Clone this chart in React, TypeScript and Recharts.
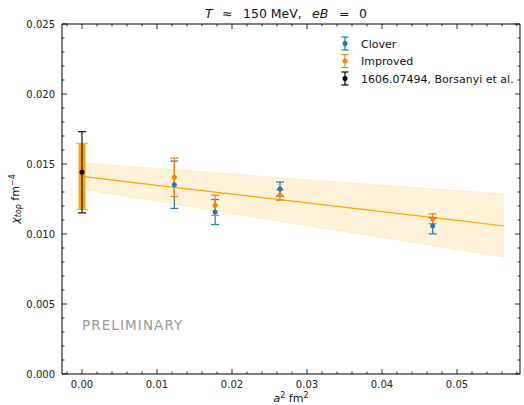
import {
    ComposedChart,
    Area,
    Line,
    Scatter,
    ErrorBar,
    XAxis,
    YAxis,
    Legend,
} from "recharts"

// continuum fit (band + central line)
const fitX = [0, 0.01, 0.02, 0.03, 0.04, 0.05, 0.0563]
const fitCentral = [0.01411, 0.01348, 0.01285, 0.01223, 0.0116, 0.01097, 0.01057]
const fitUpper = [0.01509, 0.01468, 0.01428, 0.01388, 0.01348, 0.0131, 0.01286]
const fitLower = [0.0132, 0.01235, 0.01145, 0.0106, 0.00975, 0.0089, 0.00834]

// lattice points
const a2 = [0.01231, 0.01775, 0.0264, 0.04676]
const cloverY = [0.01352, 0.01157, 0.01321, 0.01059]
const cloverErr = [0.00169, 0.00089, 0.0005, 0.00058]
const improvedY = [0.01405, 0.01205, 0.01279, 0.01109]
const improvedErr = [0.00137, 0.00072, 0.00038, 0.00035]

// a^2 = 0 values
const continuumY = [0.01412]
const continuumErr = [0.00236]
const borsanyiY = [0.01441]
const borsanyiErr = [0.0029]

const xMajorTicks = [0, 0.01, 0.02, 0.03, 0.04, 0.05]
const xMinorTicks = [
    -0.002, 0.002, 0.004, 0.006, 0.008, 0.012, 0.014, 0.016, 0.018, 0.022,
    0.024, 0.026, 0.028, 0.032, 0.034, 0.036, 0.038, 0.042, 0.044, 0.046,
    0.048, 0.052, 0.054, 0.056, 0.058,
]
const yMajorTicks = [0, 0.005, 0.01, 0.015, 0.02, 0.025]
const yMinorTicks = [
    0.001, 0.002, 0.003, 0.004, 0.006, 0.007, 0.008, 0.009, 0.011, 0.012,
    0.013, 0.014, 0.016, 0.017, 0.018, 0.019, 0.021, 0.022, 0.023, 0.024,
]

const legendLabels = ["Clover", "Improved", "1606.07494, Borsanyi et al."]

const BLUE = "#1f77b4"
const ORANGE = "#ff7f0e"
const FIT = "#ffa500"
const FONT = "DejaVu Sans"

const fitData = fitX.map((x, i) => ({
    x,
    fit: fitCentral[i],
    band: [fitLower[i], fitUpper[i]],
}))
const cloverData = a2.map((x, i) => ({ x, y: cloverY[i], err: cloverErr[i] }))
const improvedData = a2.map((x, i) => ({ x, y: improvedY[i], err: improvedErr[i] }))
const continuumData = [{ x: 0, y: continuumY[0], err: continuumErr[0] }]
const borsanyiData = [{ x: 0, y: borsanyiY[0], err: borsanyiErr[0] }]

const xTicks = [...xMajorTicks, ...xMinorTicks].sort((a, b) => a - b)
const yTicks = [...yMajorTicks, ...yMinorTicks].sort((a, b) => a - b)

const isMajor = (v: number, majors: number[]) =>
    majors.some((m) => Math.abs(m - v) < 1e-9)

function makeXTick(side: "bottom" | "top") {
    return (props: any) => {
        const { x, y, payload } = props
        const major = isMajor(payload.value, xMajorTicks)
        const len = major ? 5 : 2.5
        const dir = side === "bottom" ? -1 : 1
        return (
            <g>
                <line x1={x} y1={y} x2={x} y2={y + dir * len} stroke="#000" strokeWidth={0.8} />
                {major && side === "bottom" && (
                    <text x={x} y={y + 14} textAnchor="middle" fontSize={10} fontFamily={FONT} fill="#222">
                        {payload.value.toFixed(2)}
                    </text>
                )}
            </g>
        )
    }
}

function makeYTick(side: "left" | "right") {
    return (props: any) => {
        const { x, y, payload } = props
        const major = isMajor(payload.value, yMajorTicks)
        const len = major ? 5 : 2.5
        const dir = side === "left" ? 1 : -1
        return (
            <g>
                <line x1={x} y1={y} x2={x + dir * len} y2={y} stroke="#000" strokeWidth={0.8} />
                {major && side === "left" && (
                    <text x={x - 7} y={y + 3.6} textAnchor="end" fontSize={10} fontFamily={FONT} fill="#222">
                        {payload.value.toFixed(3)}
                    </text>
                )}
            </g>
        )
    }
}

const legendColors = [BLUE, ORANGE, "#000"]

function LegendBox() {
    return (
        <svg width={190} height={56}>
            {legendLabels.map((label, i) => {
                const cy = 9.5 + i * 17.5
                const c = legendColors[i]
                return (
                    <g key={label}>
                        <line x1={11} y1={cy - 6.5} x2={11} y2={cy + 6.5} stroke={c} strokeWidth={1.2} />
                        <line x1={7.5} y1={cy - 6.5} x2={14.5} y2={cy - 6.5} stroke={c} strokeWidth={1.2} />
                        <line x1={7.5} y1={cy + 6.5} x2={14.5} y2={cy + 6.5} stroke={c} strokeWidth={1.2} />
                        <circle cx={11} cy={cy} r={2.5} fill={c} />
                        <text x={27} y={cy + 4} fontSize={11} fontFamily={FONT} fill="#111">
                            {label}
                        </text>
                    </g>
                )
            })}
        </svg>
    )
}

const dot = (color: string, r: number) => (p: any) =>
    <circle cx={p.cx} cy={p.cy} r={r} fill={color} />

export default function App() {
    return (
        <div style={{ position: "absolute", left: 0, top: 0, width: 524, height: 405, background: "#fff" }}>
            <ComposedChart
                width={524}
                height={405}
                data={fitData}
                margin={{ top: 23, right: 3, bottom: 30, left: 61 }}
            >
                <XAxis
                    dataKey="x"
                    type="number"
                    domain={[-0.002667, 0.0584]}
                    allowDataOverflow
                    ticks={xTicks}
                    interval={0}
                    tickSize={0}
                    tickMargin={0}
                    tickLine={false}
                    height={1}
                    axisLine={{ stroke: "#000", strokeWidth: 1 }}
                    tick={makeXTick("bottom")}
                />
                <XAxis
                    xAxisId="top"
                    orientation="top"
                    dataKey="x"
                    type="number"
                    domain={[-0.002667, 0.0584]}
                    allowDataOverflow
                    ticks={xTicks}
                    interval={0}
                    tickSize={0}
                    tickMargin={0}
                    tickLine={false}
                    height={1}
                    axisLine={{ stroke: "#000", strokeWidth: 1 }}
                    tick={makeXTick("top")}
                />
                <YAxis
                    type="number"
                    domain={[0, 0.025]}
                    allowDataOverflow
                    ticks={yTicks}
                    interval={0}
                    tickSize={0}
                    tickMargin={0}
                    tickLine={false}
                    width={1}
                    axisLine={{ stroke: "#000", strokeWidth: 1 }}
                    tick={makeYTick("left")}
                />
                <YAxis
                    yAxisId="right"
                    orientation="right"
                    type="number"
                    domain={[0, 0.025]}
                    allowDataOverflow
                    ticks={yTicks}
                    interval={0}
                    tickSize={0}
                    tickMargin={0}
                    tickLine={false}
                    width={1}
                    axisLine={{ stroke: "#000", strokeWidth: 1 }}
                    tick={makeYTick("right")}
                />
                <Area
                    dataKey="band"
                    type="linear"
                    fill={FIT}
                    fillOpacity={0.15}
                    stroke={FIT}
                    strokeOpacity={0.15}
                    isAnimationActive={false}
                />
                <Line
                    dataKey="fit"
                    type="linear"
                    stroke={FIT}
                    strokeWidth={1.2}
                    dot={false}
                    activeDot={false}
                    isAnimationActive={false}
                />
                <Scatter data={cloverData} dataKey="y" shape={dot(BLUE, 2.5)} isAnimationActive={false}>
                    <ErrorBar dataKey="err" direction="y" width={4} stroke={BLUE} strokeWidth={1.2} />
                </Scatter>
                <Scatter data={improvedData} dataKey="y" shape={dot(ORANGE, 2.5)} isAnimationActive={false}>
                    <ErrorBar dataKey="err" direction="y" width={4} stroke={ORANGE} strokeWidth={1.2} />
                </Scatter>
                <Scatter data={continuumData} dataKey="y" shape={() => <g />} isAnimationActive={false}>
                    <ErrorBar dataKey="err" direction="y" width={0} stroke={FIT} strokeWidth={7} />
                    <ErrorBar dataKey="err" direction="y" width={6} stroke={FIT} strokeWidth={1} />
                </Scatter>
                <Scatter data={borsanyiData} dataKey="y" shape={dot("#000", 2.5)} isAnimationActive={false}>
                    <ErrorBar dataKey="err" direction="y" width={4} stroke="#222" strokeWidth={1.3} />
                </Scatter>
                <Legend
                    layout="horizontal"
                    verticalAlign="middle"
                    align="center"
                    wrapperStyle={{ left: 334, top: 34, width: 190, height: 56 }}
                    content={() => <LegendBox />}
                />
            </ComposedChart>
            <svg
                width={524}
                height={405}
                style={{ position: "absolute", left: 0, top: 0, pointerEvents: "none" }}
                fontFamily={FONT}
            >
                <text y={18} fontSize={12.5} fill="#111">
                    <tspan x={205} fontStyle="italic">T</tspan>
                    <tspan x={222}>≈</tspan>
                    <tspan x={243}>150 MeV,</tspan>
                    <tspan x={312} fontStyle="italic">eB</tspan>
                    <tspan x={339}>=</tspan>
                    <tspan x={359}>0</tspan>
                </text>
                <text x={291} y={402} textAnchor="middle" fontSize={11} fill="#111">
                    <tspan fontStyle="italic">a</tspan>
                    <tspan fontSize={8} dy={-4}>2</tspan>
                    <tspan dy={4}> fm</tspan>
                    <tspan fontSize={8} dy={-4}>2</tspan>
                </text>
                <text
                    transform="translate(19,199) rotate(-90)"
                    textAnchor="middle"
                    fontSize={11}
                    fill="#111"
                >
                    <tspan fontStyle="italic">χ</tspan>
                    <tspan fontSize={8} fontStyle="italic" dy={2}>top</tspan>
                    <tspan dy={-2}> fm</tspan>
                    <tspan fontSize={8} dy={-4}>−4</tspan>
                </text>
                <text x={82} y={330} fontSize={13.5} letterSpacing={1.1} fill="#999">
                    PRELIMINARY
                </text>
            </svg>
        </div>
    )
}
